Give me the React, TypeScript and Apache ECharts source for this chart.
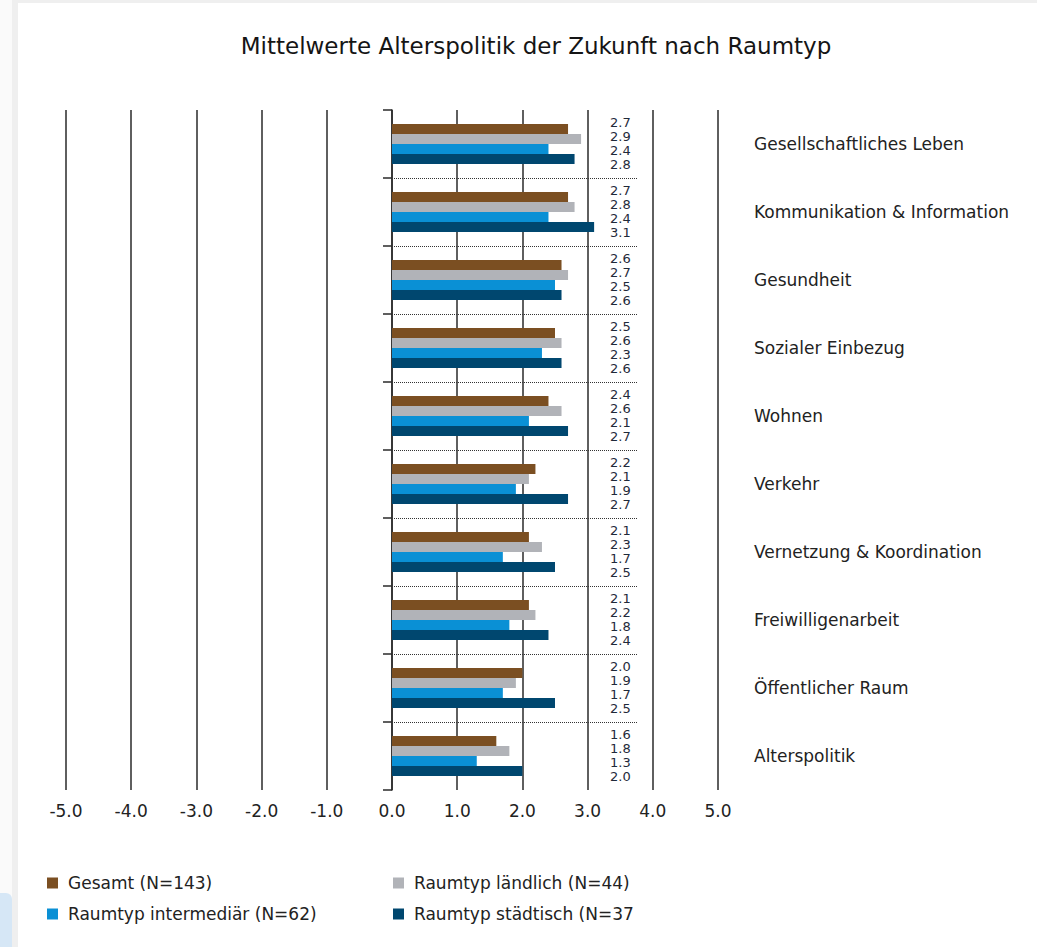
import React, { useEffect, useRef } from "react";
import * as echarts from "echarts";

const TITLE = "Mittelwerte Alterspolitik der Zukunft nach Raumtyp";

const CATEGORIES = [
  "Gesellschaftliches Leben",
  "Kommunikation & Information",
  "Gesundheit",
  "Sozialer Einbezug",
  "Wohnen",
  "Verkehr",
  "Vernetzung & Koordination",
  "Freiwilligenarbeit",
  "Öffentlicher Raum",
  "Alterspolitik",
];

const SERIES_NAMES = [
  "Gesamt (N=143)",
  "Raumtyp ländlich (N=44)",
  "Raumtyp intermediär (N=62)",
  "Raumtyp städtisch (N=37",
];

const GESAMT = [2.7, 2.7, 2.6, 2.5, 2.4, 2.2, 2.1, 2.1, 2.0, 1.6];
const LAENDLICH = [2.9, 2.8, 2.7, 2.6, 2.6, 2.1, 2.3, 2.2, 1.9, 1.8];
const INTERMEDIAER = [2.4, 2.4, 2.5, 2.3, 2.1, 1.9, 1.7, 1.8, 1.7, 1.3];
const STAEDTISCH = [2.8, 3.1, 2.6, 2.6, 2.7, 2.7, 2.5, 2.4, 2.5, 2.0];

const X_MIN = -5;
const X_MAX = 5;
const X_INTERVAL = 1;

// category boundaries (between categories) for the dotted dividers
const DIVIDERS = [1, 2, 3, 4, 5, 6, 7, 8, 9];
const DIVIDER_END = 3.77;

const COLORS = ["#7b4f22", "#b1b3b8", "#0a90d5", "#00476f"];
const LABEL_DY = [-6.5, -2.5, 1.5, 5.5];
const FONT = "DejaVu Sans";

export default function App() {
  const ref = useRef<HTMLDivElement>(null);

  useEffect(() => {
    if (!ref.current) return;
    const chart = echarts.init(ref.current, undefined, { renderer: "svg" });
    const values = [GESAMT, LAENDLICH, INTERMEDIAER, STAEDTISCH];

    const barSeries = values.map((data, i) => ({
      name: SERIES_NAMES[i],
      type: "bar",
      xAxisIndex: 0,
      yAxisIndex: 0,
      data,
      barWidth: 10,
      barGap: "0%",
      itemStyle: { color: COLORS[i] },
      label: {
        show: true,
        position: [218, 5 + LABEL_DY[i]],
        align: "left",
        verticalAlign: "middle",
        formatter: (p: any) => Number(p.value).toFixed(1),
        fontFamily: FONT,
        fontSize: 13,
        color: "#1f2a3a",
      },
    }));

    const legendText = {
      fontFamily: FONT,
      fontSize: 17,
      color: "#222",
      lineHeight: 18,
      padding: [0, 0, 0, 5],
    };

    const option: any = {
      animation: false,
      backgroundColor: "#ffffff",
      title: {
        text: TITLE,
        left: 531,
        top: 29,
        textAlign: "center",
        textStyle: {
          fontFamily: FONT,
          fontSize: 23,
          fontWeight: "normal",
          color: "#151515",
        },
      },
      graphic: [
        { type: "rect", shape: { x: 0, y: 0, width: 1037, height: 3 }, style: { fill: "#efefef" }, z: -10 },
        { type: "rect", shape: { x: 0, y: 0, width: 12, height: 947 }, style: { fill: "#fafafa" }, z: -10 },
        { type: "rect", shape: { x: 12, y: 0, width: 6, height: 947 }, style: { fill: "#efefef" }, z: -10 },
        { type: "rect", shape: { x: 0, y: 893, width: 12, height: 54, r: [0, 6, 0, 0] }, style: { fill: "#d6e7f6" }, z: -9 },
      ],
      legend: [
        {
          data: [SERIES_NAMES[0], SERIES_NAMES[2]],
          orient: "vertical",
          left: 42,
          top: 869,
          itemWidth: 11,
          itemHeight: 11,
          itemGap: 13,
          icon: "rect",
          textStyle: legendText,
        },
        {
          data: [SERIES_NAMES[1], SERIES_NAMES[3]],
          orient: "vertical",
          left: 388,
          top: 869,
          itemWidth: 11,
          itemHeight: 11,
          itemGap: 13,
          icon: "rect",
          textStyle: legendText,
        },
      ],
      grid: {
        left: 66,
        right: 319,
        top: 110,
        bottom: 157,
        containLabel: false,
        outerBoundsMode: "none",
      },
      xAxis: {
        type: "value",
        min: X_MIN,
        max: X_MAX,
        interval: X_INTERVAL,
        axisLine: { show: false },
        axisTick: { show: false },
        axisLabel: {
          formatter: (v: number) => v.toFixed(1),
          fontFamily: FONT,
          fontSize: 17,
          color: "#222",
          margin: 12,
        },
        splitLine: { show: true, lineStyle: { color: "#2a2a2a", width: 1.5 } },
      },
      yAxis: [
        {
          type: "category",
          data: CATEGORIES,
          inverse: true,
          position: "left",
          axisLine: { show: true, onZero: true, lineStyle: { color: "#2a2a2a", width: 1.5 } },
          axisTick: { show: true, length: 9, interval: 0, lineStyle: { color: "#2a2a2a", width: 1.5 } },
          axisLabel: { show: false },
          splitLine: { show: false },
        },
        {
          type: "category",
          data: CATEGORIES,
          inverse: true,
          position: "right",
          axisLine: { show: false },
          axisTick: { show: false },
          axisLabel: {
            show: true,
            margin: 36,
            fontFamily: FONT,
            fontSize: 17,
            color: "#222",
            padding: [3, 0, 0, 0],
          },
          splitLine: { show: false },
        },
        {
          type: "value",
          min: 0,
          max: CATEGORIES.length,
          inverse: true,
          show: false,
        },
      ],
      series: [
        ...barSeries,
        {
          name: "dividers",
          type: "line",
          xAxisIndex: 0,
          yAxisIndex: 2,
          data: [],
          silent: true,
          markLine: {
            silent: true,
            symbol: "none",
            label: { show: false },
            lineStyle: { type: "dotted", color: "#333", width: 1 },
            data: DIVIDERS.map((b) => [{ coord: [0, b] }, { coord: [DIVIDER_END, b] }]),
          },
        },
      ],
    };

    chart.setOption(option);
    return () => chart.dispose();
  }, []);

  return (
    <div
      ref={ref}
      style={{ position: "fixed", left: 0, top: 0, width: 1037, height: 947 }}
    />
  );
}
